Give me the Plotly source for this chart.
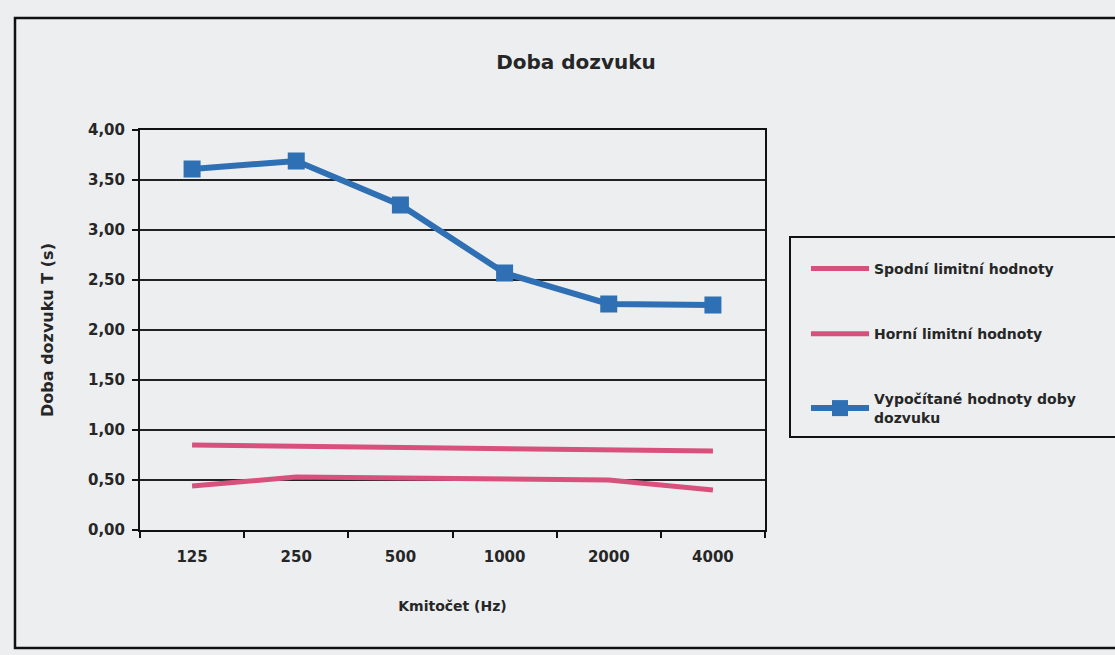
import plotly.graph_objects as go

# Frequencies (Hz) and reverberation times (s)
freqs = ["125", "250", "500", "1000", "2000", "4000"]
lower_limit = [0.44, 0.53, 0.52, 0.51, 0.50, 0.40]
upper_limit = [0.85, 0.84, 0.82, 0.82, 0.80, 0.79]
computed = [3.61, 3.69, 3.25, 2.57, 2.26, 2.25]
y_ticks = [0, 0.5, 1.0, 1.5, 2.0, 2.5, 3.0, 3.5, 4.0]
y_tick_text = [f"{v:.2f}".replace(".", ",") for v in y_ticks]

BG = "#eceef0"
PINK = "#d8507c"
BLUE = "#2f6fb3"
INK = "#262626"
FONT = "DejaVu Sans"

fig = go.Figure()
fig.add_trace(go.Scatter(
    x=freqs, y=lower_limit, mode="lines", name="Spodní limitní hodnoty",
    line=dict(color=PINK, width=5), legendgroup="a",
))
fig.add_trace(go.Scatter(
    x=freqs, y=upper_limit, mode="lines", name="Horní limitní hodnoty",
    line=dict(color=PINK, width=5), legendgroup="b",
))
fig.add_trace(go.Scatter(
    x=freqs, y=computed, mode="lines+markers",
    name="Vypočítané hodnoty doby<br>dozvuku",
    line=dict(color=BLUE, width=6),
    marker=dict(symbol="square", size=17, color=BLUE),
    legendgroup="c",
))

W, H = 1115, 655
L, R, T, B = 140, 350, 130, 125
pw, ph = W - L - R, H - T - B


def px(x):
    return (x - L) / pw


def py(y):
    return (H - B - y) / ph


# outer frame of the chart
fig.add_shape(type="rect", xref="paper", yref="paper",
              x0=px(15), x1=px(1125), y0=py(648), y1=py(18),
              line=dict(color="#111", width=2.5), fillcolor="rgba(0,0,0,0)",
              layer="below")
# legend frame
fig.add_shape(type="rect", xref="paper", yref="paper",
              x0=px(790), x1=px(1125), y0=py(437), y1=py(237),
              line=dict(color="#111", width=2), fillcolor="rgba(0,0,0,0)",
              layer="below")

fig.update_layout(
    width=W, height=H,
    margin=dict(l=L, r=R, t=T, b=B),
    paper_bgcolor=BG, plot_bgcolor=BG,
    font=dict(family=FONT, color=INK, size=14),
    title=dict(text="Doba dozvuku", x=576 / W, xref="container", xanchor="center",
               y=1 - 62 / H, yref="container", yanchor="middle",
               font=dict(size=20, weight="bold", color=INK)),
    showlegend=True,
    legend=dict(
        x=px(806), xanchor="left", y=py(253), yanchor="top",
        bgcolor="rgba(0,0,0,0)", borderwidth=0,
        font=dict(size=14, color=INK, weight="bold"),
        tracegroupgap=44, itemwidth=58,
    ),
    xaxis=dict(
        type="category", range=[-0.5, 5.5],
        tickson="boundaries", ticks="outside", ticklen=6,
        tickcolor="#111", tickwidth=2, ticklabelstandoff=12,
        showline=True, linecolor="#111", linewidth=2, mirror=True,
        showgrid=False,
        tickfont=dict(size=15, weight="bold", color=INK),
        title=dict(text="Kmitočet (Hz)", standoff=36,
                   font=dict(size=14, weight="bold", color=INK)),
    ),
    yaxis=dict(
        range=[0, 4], tickvals=y_ticks, ticktext=y_tick_text,
        ticks="outside", ticklen=6, tickcolor="#111", tickwidth=2,
        ticklabelstandoff=4,
        showline=True, linecolor="#111", linewidth=2, mirror=True,
        showgrid=True, gridcolor="#222", gridwidth=2,
        zeroline=False,
        tickfont=dict(size=15, weight="bold", color=INK),
        title=dict(text="Doba dozvuku T (s)", standoff=30,
                   font=dict(size=16, weight="bold", color=INK)),
    ),
)

fig.write_html("out.html")
